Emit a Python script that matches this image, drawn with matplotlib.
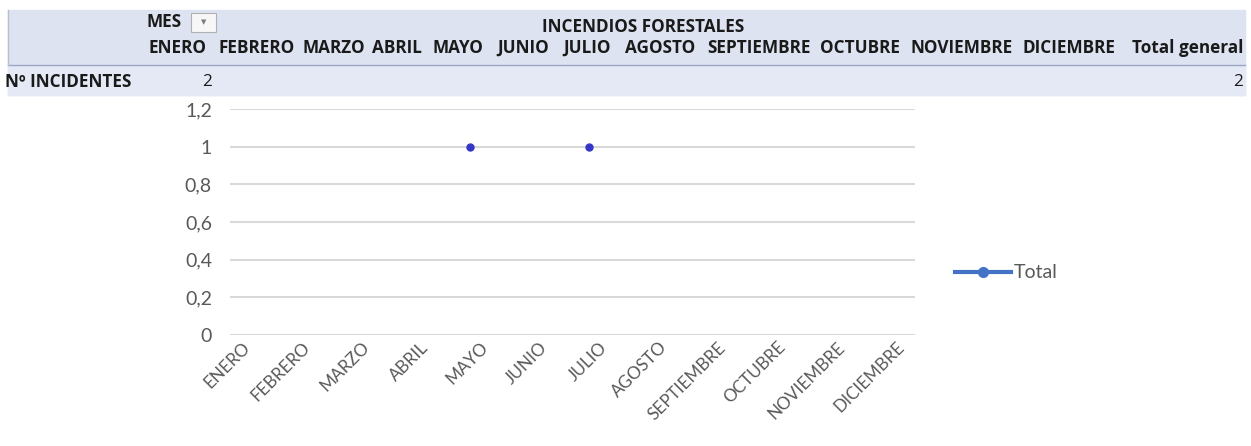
import numpy as np
import matplotlib.pyplot as plt
from matplotlib.patches import Rectangle
from matplotlib.lines import Line2D
import matplotlib.transforms as mtransforms

# data
meses = ['ENERO', 'FEBRERO', 'MARZO', 'ABRIL', 'MAYO', 'JUNIO', 'JULIO',
         'AGOSTO', 'SEPTIEMBRE', 'OCTUBRE', 'NOVIEMBRE', 'DICIEMBRE']
total = [np.nan, np.nan, np.nan, np.nan, 1, np.nan, 1,
         np.nan, np.nan, np.nan, np.nan, np.nan]
yticks = [0, 0.2, 0.4, 0.6, 0.8, 1.0, 1.2]
ytick_labels = ['0', '0,2', '0,4', '0,6', '0,8', '1', '1,2']

# pivot table header
titulo = 'INCENDIOS FORESTALES'
fila_nombre = 'Nº INCIDENTES'
fila_valor = '2'
total_general = '2'
header_x = [148, 218, 302, 372, 433, 497, 563, 625, 707, 820, 910, 1023]

W, H = 1251, 446
FONT = 'Lato'
HFONT = 'Open Sans'
GRAY = '#595959'


def fx(x):
    return x / W


def fy(y):
    return 1 - y / H


fig = plt.figure(figsize=(W / 100, H / 100), dpi=100)

# --- pivot table band ---
fig.patches.append(Rectangle((fx(8), fy(95)), fx(1245) - fx(8), fy(10) - fy(95),
                             transform=fig.transFigure, color='#dde3f1', zorder=0))
fig.patches.append(Rectangle((fx(8), fy(95)), fx(1245) - fx(8), fy(66) - fy(95),
                             transform=fig.transFigure, color='#e4e9f5', zorder=0))
fig.lines.append(Line2D([fx(8), fx(1245)], [fy(65), fy(65)], transform=fig.transFigure,
                        color='#9aa6c4', lw=1))
fig.lines.append(Line2D([fx(8), fx(8)], [fy(10), fy(65)], transform=fig.transFigure,
                        color='#b8bfcf', lw=1))

hdr = dict(fontfamily=HFONT, fontweight='bold', fontsize=12.3, color='#1a1a1a', va='center')
fig.text(fx(147), fy(22), 'MES', ha='left', **hdr)
fig.patches.append(Rectangle((fx(191), fy(32)), fx(216) - fx(191), fy(13) - fy(32),
                             transform=fig.transFigure, facecolor='#f7f7f7',
                             edgecolor='#b0b0b0', lw=0.8))
fig.text(fx(203.5), fy(22.5), '▼', ha='center', va='center', fontsize=5, color='#7a7a7a',
         fontfamily='DejaVu Sans')
fig.text(fx(643), fy(27), titulo, ha='center', **hdr)
for x, m in zip(header_x, meses):
    fig.text(fx(x), fy(48), m, ha='left', **hdr)
fig.text(fx(1243), fy(48), 'Total general', ha='right', **hdr)
fig.text(fx(5), fy(82), fila_nombre, ha='left', **hdr)
fig.text(fx(212), fy(82), fila_valor, ha='right', fontfamily=HFONT, fontsize=12.3,
         color='#1a1a1a', va='center')
fig.text(fx(1243), fy(82), total_general, ha='right', fontfamily=HFONT, fontsize=12.3,
         color='#1a1a1a', va='center')

# --- line chart ---
ax = fig.add_axes([fx(230), fy(335), fx(915) - fx(230), fy(109) - fy(335)])
x = np.arange(len(meses))
ax.plot(x, total, color='#4472C4', lw=2.25, marker='o', markersize=5,
        markerfacecolor='#3535c8', markeredgecolor='#3535c8', zorder=3)

ax.set_ylim(0, 1.2)
ax.set_xlim(-0.03, 11.48)
ax.set_yticks(yticks)
ax.set_yticklabels(ytick_labels, fontfamily=FONT, fontsize=14, color=GRAY)
ax.set_xticks(x)
ax.set_xticklabels(meses, rotation=45, ha='right', rotation_mode='anchor',
                   fontfamily=FONT, fontsize=12.3, color=GRAY)
ax.tick_params(axis='both', length=0)
ax.tick_params(axis='y', pad=13)
ax.tick_params(axis='x', pad=3)
# tick_params resets label transforms, so shift the month labels afterwards
offset = mtransforms.ScaledTranslation(0.10, 0, fig.dpi_scale_trans)
for lbl in ax.get_xticklabels():
    lbl.set_transform(lbl.get_transform() + offset)
ax.grid(axis='y', color='#d9d9d9', lw=1.5)
ax.set_axisbelow(True)
for s in ax.spines.values():
    s.set_visible(False)

handle = Line2D([], [], color='#4472C4', lw=3, marker='o', markersize=7,
                markerfacecolor='#4472C4', markeredgecolor='#4472C4')
fig.legend([handle], ['Total'], loc='center left', bbox_to_anchor=(fx(955), fy(273)),
           frameon=False, handlelength=2.9, handletextpad=0.1, borderpad=0,
           borderaxespad=0, prop={'family': FONT, 'size': 14}, labelcolor=GRAY)

fig.savefig('out.png', dpi=100)
